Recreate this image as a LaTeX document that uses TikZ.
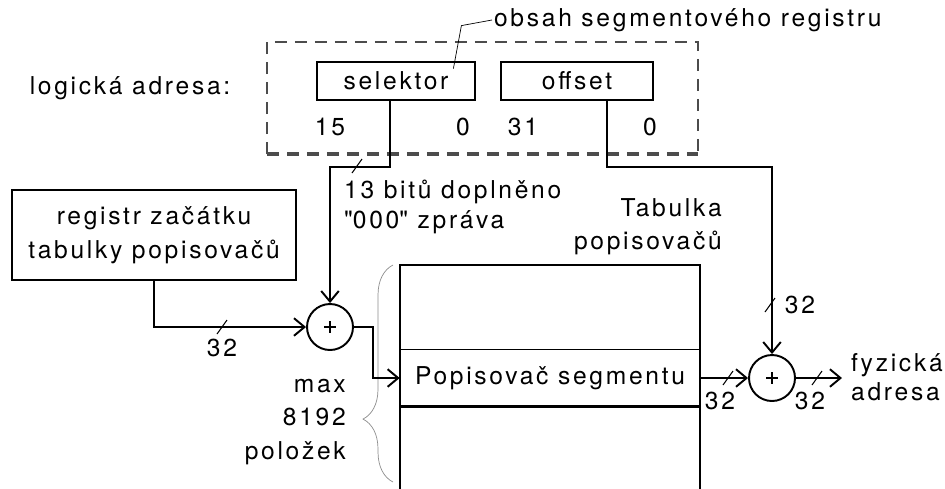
\documentclass[tikz,border=0pt]{standalone}
\usepackage{fontspec}
\setmainfont[LetterSpace=11]{TeX Gyre Heros}
\usetikzlibrary{arrows.meta}
\usetikzlibrary{decorations.pathreplacing}

\tikzset{
  box/.style={draw, line width=1.6pt, inner sep=0pt},
  bus/.style={line width=1.1pt},
  tip/.style={-{Straight Barb[length=6pt,width=10pt,line width=1.1pt]}},
  adder/.style={draw, circle, line width=1.1pt, minimum size=0.92cm, inner sep=0pt},
  tick/.style={line width=0.6pt},
  frame/.style={black!70, dash pattern=on 0.24cm off 0.16cm}
}

\begin{document}
\begin{tikzpicture}[x=0.02cm, y=-0.02cm, font=\fontsize{14}{19}\selectfont]
\useasboundingbox (0,0) rectangle (945,488);

% logicka adresa
\node (logadr) at (130,88) {logická adresa:};
\draw[frame, line width=1pt] (267,154) |- (698,42) -- (698,154);
\draw[frame, line width=2pt] (267,154) -- (698,154);
\node[box, minimum width=3.16cm, minimum height=0.76cm] (selektor) at (396,81) {selektor};
\node[box, minimum width=3.04cm, minimum height=0.76cm] (offset) at (577,81) {offset};
\node (b15) at (330,127) {15};
\node (b0a) at (463,127) {0};
\node (b31) at (523,127) {31};
\node (b0b) at (650,127) {0};

\node[anchor=west, inner sep=1pt] (obsah) at (492,20) {obsah segmentového registru};
\draw[thin] ([xshift=-0.46cm,yshift=-0.16cm]selektor.north east) -- ++(8,-43) -- (obsah.west);

% tabulka popisovacu
\node[box, minimum width=5.68cm, minimum height=1.8cm, align=center] (regtab) at (154,235) {registr začátku\\tabulky popisovačů};
\draw[line width=1.3pt] (400,490) |- (700,265) -- (700,490);
\node[minimum width=6cm, minimum height=1.12cm] (desc) at (550,378) {Popisovač segmentu};
\draw[line width=0.8pt] (desc.north west) -- (desc.north east);
\draw[line width=1.8pt] (desc.south west) -- (desc.south east);
\node[align=right, anchor=east] (tabulka) at (728,227) {Tabulka\\popisovačů};

\draw[black!45, thin, decorate, decoration={brace, amplitude=0.6cm, aspect=0.29}] (393,482) -- (393,265);
\node[align=right, anchor=east] (maxpol) at (352,422) {max\\8192\\položek};
\node[align=left, anchor=west, font=\fontsize{14}{17.5}\selectfont] (bity) at (338,207) {13 bitů doplněno\\\textquotedbl 000\textquotedbl\ zpráva};

% scitacky
\node[adder] (add1) at (330,327) {};
\node[adder] (add2) at (772,378) {};
\foreach \a in {add1,add2}
{
	\draw[line width=0.8pt] (\a) +(-6,0) -- +(6,0) (\a) +(0,-6) -- +(0,6);
}

\draw[bus, tip] ([xshift=-0.12cm]selektor.south) -- ++(0,66) -| (add1.north);
\draw[bus, tip] (regtab.south) |- (add1.west);
\draw[bus, tip] (add1.east) -- ++(19,0) |- (desc.west);
\draw[bus, tip] ([xshift=0.6cm]offset.south) -- ++(0,66) -| (add2.north);
\draw[bus, tip] (desc.east) -- (add2.west);
\coordinate (fyzout) at (842,378);
\draw[bus, tip] (add2.east) -- (fyzout);
\node[align=left, anchor=west, font=\fontsize{14}{16.5}\selectfont] (fyz) at (845,377) {fyzická\\adresa};

% sirky sbernic
\foreach \p in {(357,166),(222,327),(770,305),(728,378),(817,378)}
{
	\draw[tick] \p ++(-5,7) -- ++(10,-14);
}
\node (w32a) at (222,348) {32};
\node (w32b) at (800,305) {32};
\node (w32c) at (720,401) {32};
\node (w32d) at (810,401) {32};
\end{tikzpicture}
\end{document}
